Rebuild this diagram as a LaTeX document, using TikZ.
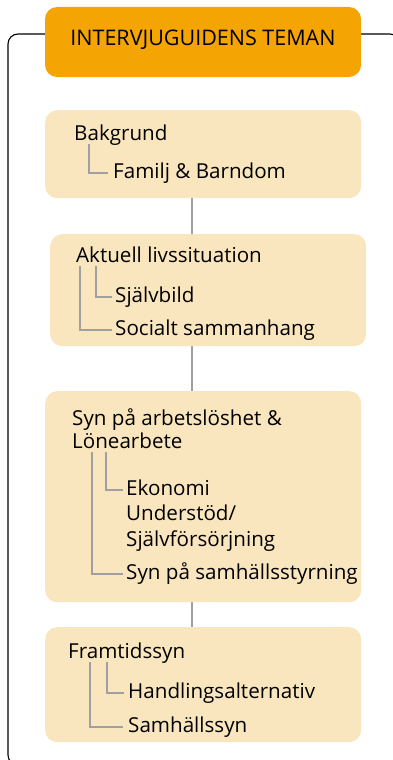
\documentclass[tikz,border=0pt]{standalone}
\usepackage{fontspec}
\setmainfont{Open Sans}
\usetikzlibrary{positioning}
\definecolor{titleorange}{HTML}{F5A503}
\definecolor{topicfill}{HTML}{FAE6BE}
\definecolor{branchgray}{HTML}{A0A0A0}
\tikzset{
  title/.style={fill=titleorange, rounded corners=12pt, minimum width=316pt,
    minimum height=70pt, inner sep=0pt, font=\fontsize{21.5}{24}\selectfont,
    text height=15pt, text depth=8pt},
  topic/.style={fill=topicfill, rounded corners=12pt, minimum width=316pt,
    anchor=north west, inner sep=0pt},
  lbl/.style={anchor=base west, inner sep=0pt, font=\fontsize{20.6}{24}\selectfont,
    text height=14pt, text depth=4pt},
  branch/.style={draw=branchgray, line width=2.5pt},
  link/.style={draw=branchgray, line width=2.5pt},
  frame/.style={draw=black, line width=1.1pt, rounded corners=10pt}
}
\begin{document}
\begin{tikzpicture}[x=1pt,y=-1pt]
  \clip (0,0) rectangle (393,760);
  \draw[frame] (8,34) rectangle (400,765);
  \node[title] (head) at (203,42) {INTERVJUGUIDENS TEMAN};
  \coordinate (spine) at (192,0);

  % topic boxes
  \node[topic, minimum height=88pt] (bgbox) at (45,110) {};
  \node[topic, minimum height=112pt] (avbox) at (50,234) {};
  \node[topic, minimum height=211pt] (synbox) at (45,391) {};
  \node[topic, minimum height=115pt] (frbox) at (45,627) {};
  \draw[link] (bgbox.south -| spine) -- (avbox.north -| spine);
  \draw[link] (avbox.south -| spine) -- (synbox.north -| spine);
  \draw[link] (synbox.south -| spine) -- (frbox.north -| spine);

  % Bakgrund
  \node[lbl] (bak) at (74,140) {Bakgrund};
  \node[lbl] (fam) at (113,178) {Familj \& Barndom};
  \draw[branch] ([xshift=15pt]bak.south west) |- ([xshift=-5pt]fam.west);

  % Aktuell livssituation
  \node[lbl] (akt) at (76,262) {Aktuell livssituation};
  \node[lbl] (sjb) at (115,302) {Självbild};
  \node[lbl] (soc) at (115,335) {Socialt sammanhang};
  \draw[branch] ([xshift=20pt]akt.south west) |- ([xshift=-3pt]sjb.west);
  \draw[branch] ([xshift=4pt]akt.south west) |- ([xshift=-3pt]soc.west);

  % Syn på arbetslöshet
  \node[lbl] (syn) at (72,425) {Syn på arbetslöshet \&};
  \node[lbl] (lon) at (72,448) {Lönearbete};
  \node[lbl] (eko) at (126,495) {Ekonomi};
  \node[lbl] (und) at (126,520) {Understöd/};
  \node[lbl] (sjf) at (126,546) {Självförsörjning};
  \node[lbl] (sty) at (126,579) {Syn på samhällsstyrning};
  \draw[branch] ([xshift=34pt]lon.south west) |- ([xshift=-3pt]eko.west);
  \draw[branch] ([xshift=20pt]lon.south west) |- ([xshift=-3pt]sty.west);

  % Framtidssyn
  \node[lbl] (fra) at (68,658) {Framtidssyn};
  \node[lbl] (han) at (128,698) {Handlingsalternativ};
  \node[lbl] (sam) at (128,732) {Samhällssyn};
  \draw[branch] ([xshift=39pt]fra.south west) |- ([xshift=-4pt]han.west);
  \draw[branch] ([xshift=22pt]fra.south west) |- ([xshift=-5pt]sam.west);
\end{tikzpicture}
\end{document}
